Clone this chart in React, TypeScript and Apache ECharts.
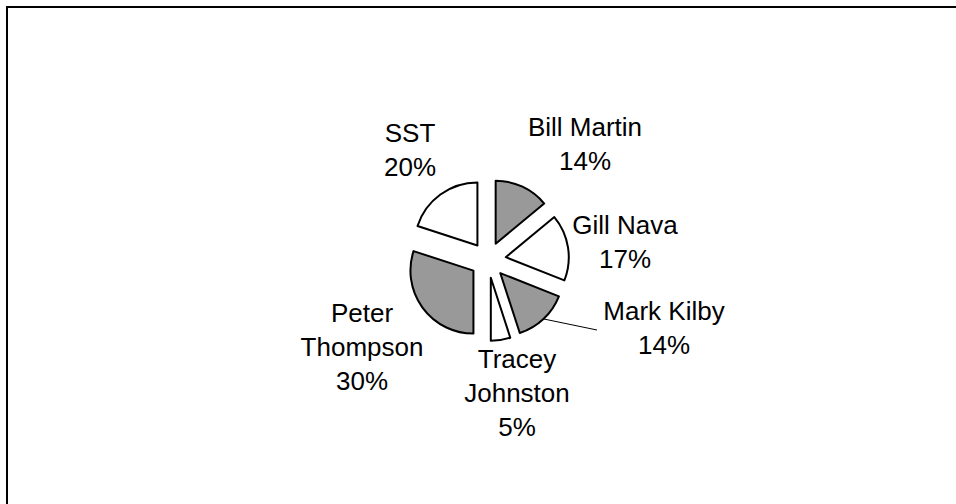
import React, { useEffect, useRef } from "react";
import * as echarts from "echarts";

const names = ["Bill Martin", "Gill Nava", "Mark Kilby", "Tracey Johnston", "Peter Thompson", "SST"];
const shares = [14, 17, 14, 5, 30, 20];
const fills = ["#999999", "#ffffff", "#999999", "#ffffff", "#999999", "#ffffff"];
const wrapped = ["Tracey Johnston", "Peter Thompson"];
// label block centres (layout only)
const labelSpots = [
  [585, 144],
  [625, 242],
  [664, 328],
  [517, 393],
  [362, 347],
  [410, 150],
];

export default function App() {
  const ref = useRef<HTMLDivElement>(null);
  useEffect(() => {
    if (!ref.current) return;
    const chart = echarts.init(ref.current, null, { renderer: "svg" });
    const common = {
      type: "pie",
      center: [488, 260],
      radius: 63,
      startAngle: 90,
      clockwise: true,
      avoidLabelOverlap: false,
      emphasis: { disabled: true },
    };
    chart.setOption({
      animation: false,
      backgroundColor: "#ffffff",
      graphic: [
        {
          type: "rect",
          shape: { x: 7, y: 7, width: 1000, height: 600 },
          style: { fill: "none", stroke: "#000000", lineWidth: 2 },
          silent: true,
        },
      ],
      series: [
        {
          ...common,
          name: "slices",
          selectedMode: "multiple",
          selectedOffset: 18,
          itemStyle: { borderColor: "#000000", borderWidth: 2 },
          label: { show: false },
          labelLine: { show: false },
          data: names.map((n, i) => ({
            name: n,
            value: shares[i],
            selected: true,
            itemStyle: { color: fills[i] },
          })),
        },
        {
          ...common,
          name: "labels",
          silent: true,
          selectedMode: false,
          itemStyle: { color: "rgba(0,0,0,0)", borderWidth: 0 },
          label: {
            show: true,
            position: "outside",
            fontFamily: "Liberation Sans, Arial, sans-serif",
            fontSize: 26,
            lineHeight: 34,
            color: "#000000",
            align: "center",
            formatter: (p: any) => {
              const n = wrapped.includes(p.name) ? p.name.replace(" ", "\n") : p.name;
              return n + "\n" + Math.round(p.percent) + "%";
            },
          },
          labelLine: { show: false },
          labelLayout: (p: any) => {
            const s = labelSpots[p.dataIndex];
            const out: any = { x: s[0], y: s[1], align: "center", verticalAlign: "middle" };
            if (p.dataIndex === 2) {
              out.labelLinePoints = [
                [539, 318],
                [597, 330],
              ];
            }
            return out;
          },
          data: names.map((n, i) => ({
            name: n,
            value: shares[i],
            labelLine:
              i === 2
                ? { show: true, lineStyle: { color: "#000000", width: 1 } }
                : { show: false },
          })),
        },
      ],
    });
    return () => chart.dispose();
  }, []);
  return (
    <div
      ref={ref}
      style={{ position: "absolute", left: 0, top: 0, width: 956, height: 504 }}
    />
  );
}
